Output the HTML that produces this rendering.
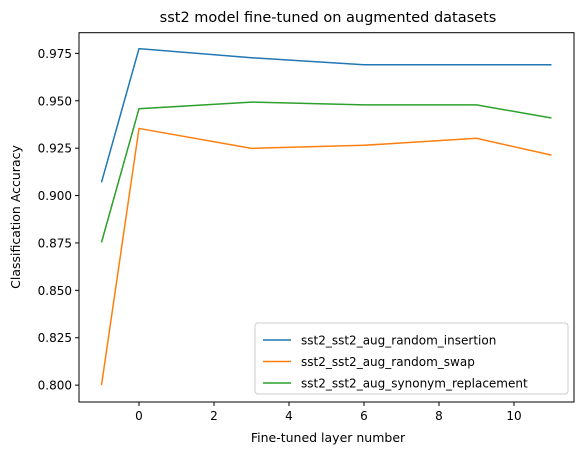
<!DOCTYPE html>
<html><head><meta charset="utf-8"><style>
body{margin:0;background:#fff;}
svg{font-family:"DejaVu Sans","Liberation Sans",sans-serif;}
</style></head><body>
<svg id="chart" width="584" height="455" viewBox="0 0 584 455">
<rect width="584" height="455" fill="#fff"/>
<text x="328" y="22" font-size="14.5" text-anchor="middle" fill="#000">sst2 model fine-tuned on augmented datasets</text>
<g id="plot"></g>
<rect x="79" y="32.7" width="495" height="369.3" fill="none" stroke="#000" stroke-width="1"/>
<text x="328" y="442" font-size="12.5" text-anchor="middle">Fine-tuned layer number</text>
<text transform="translate(20,217) rotate(-90)" font-size="12.5" text-anchor="middle">Classification Accuracy</text>
<g id="legend"></g>
</svg>
<script>
const xs = [-1, 0, 3, 6, 9, 11];
const seriesNames = ["sst2_sst2_aug_random_insertion","sst2_sst2_aug_random_swap","sst2_sst2_aug_synonym_replacement"];
const insertion = [0.907, 0.9775, 0.9727, 0.969, 0.969, 0.969];
const swap = [0.800, 0.9354, 0.9249, 0.9265, 0.9302, 0.9213];
const synonym = [0.8753, 0.9458, 0.9493, 0.9478, 0.9478, 0.9409];
const xTicks = [0, 2, 4, 6, 8, 10];
const yTicks = [0.800, 0.825, 0.850, 0.875, 0.900, 0.925, 0.950, 0.975];
const colors = ["#1f77b4","#ff7f0e","#2ca02c"];
const NS="http://www.w3.org/2000/svg";
const xMin=-1.6,xMax=11.6,L=79,R=574;
const yMin=0.7911,yMax=0.9859,B=402,T=32.7;
const X=v=>L+(v-xMin)/(xMax-xMin)*(R-L);
const Y=v=>B-(v-yMin)/(yMax-yMin)*(B-T);
const plot=document.getElementById('plot');
function mk(t,a,p){const e=document.createElementNS(NS,t);for(const k in a)e.setAttribute(k,a[k]);(p||plot).appendChild(e);return e;}
xTicks.forEach(t=>{
 const l=mk('line',{x1:X(t),x2:X(t),y1:B,y2:B+4,stroke:'#000'});
 
 
 const tx=mk('text',{x:X(t),y:B+18,'font-size':12,'text-anchor':'middle'});tx.textContent=t;
 
 
});
yTicks.forEach(t=>{
 const l=mk('line',{x1:L-4,x2:L,y1:Y(t),y2:Y(t),stroke:'#000'});
 
 
 const tx=mk('text',{x:L-7,y:Y(t)+4.5,'font-size':12,'text-anchor':'end'});tx.textContent=t.toFixed(3);
 
 
});
[insertion,swap,synonym].forEach((s,i)=>{
 const p=mk('polyline',{points:s.map((v,j)=>X(xs[j])+','+Y(v)).join(' '),fill:'none',stroke:colors[i],'stroke-width':1.5});
 
 
});
const lg=document.getElementById('legend');
const box=mk('rect',{x:255,y:323,width:313,height:71,rx:3,fill:'#fff','fill-opacity':0.8,stroke:'#ccc'},lg);


seriesNames.forEach((n,i)=>{
 const y=340+i*21.5;
 const l=mk('line',{x1:263,x2:291,y1:y,y2:y,stroke:colors[i],'stroke-width':1.5},lg);
 
 
 const t=mk('text',{x:301,y:y+4.5,'font-size':12},lg);t.textContent=n;
 
 
});
</script>
</body></html>
